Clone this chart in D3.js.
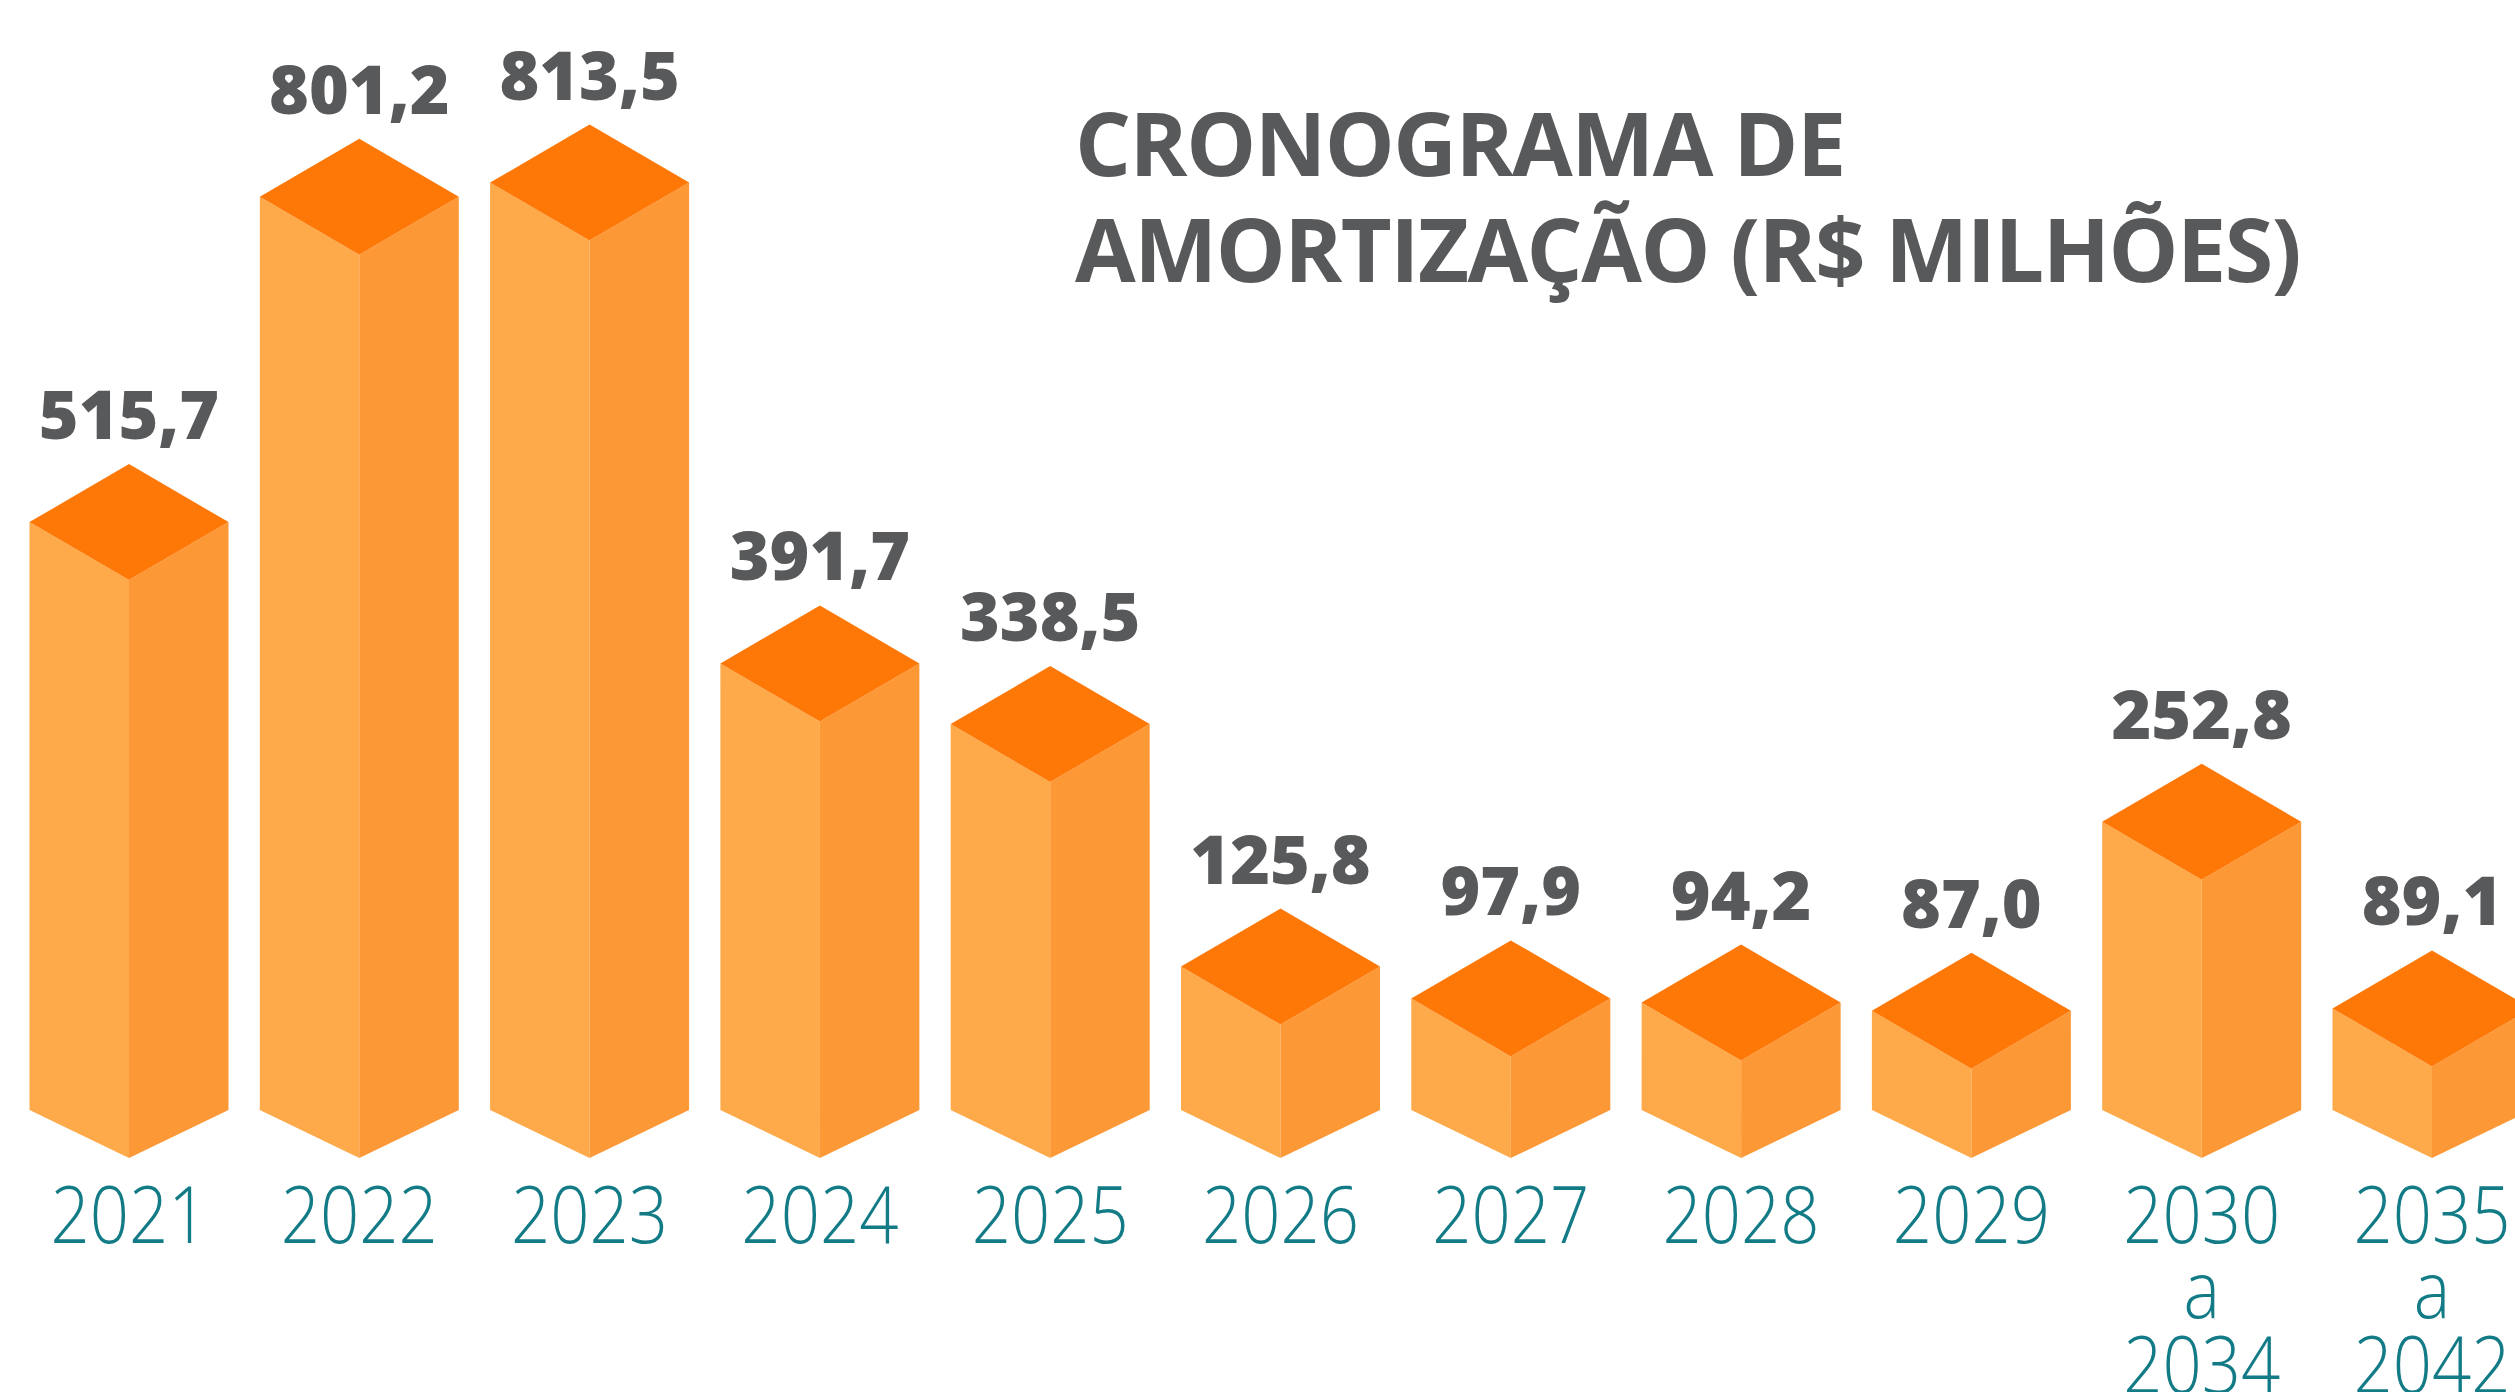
<!DOCTYPE html>
<html>
<head>
<meta charset="utf-8">
<script src="https://cdn.jsdelivr.net/npm/d3@7"></script>
<style>
  body { margin: 0; background: #fff; }
  svg { display: block; }
</style>
</head>
<body>
<script>
// DATA
// =============================================================================

const periods = ["2021", "2022", "2023", "2024", "2025", "2026", "2027", "2028", "2029", "2030 a 2034", "2035 a 2042"];
const periodLines = [["2021"], ["2022"], ["2023"], ["2024"], ["2025"], ["2026"], ["2027"], ["2028"], ["2029"], ["2030", "a", "2034"], ["2035", "a", "2042"]];
const amortization = [515.7, 801.2, 813.5, 391.7, 338.5, 125.8, 97.9, 94.2, 87.0, 252.8, 89.1];
const titleLines = ["CRONOGRAMA DE", "AMORTIZAÇÃO (R$ MILHÕES)"];

// CONFIG VARS
// =============================================================================

const width = 2515;
const height = 1392;
const baseY = 1110;       // bottom of the side edges
const barHalf = 99.5;     // half of a bar's width
const topDy = 58;         // depth of the top diamond
const botDy = 48;         // depth of the bottom point

const colors = {
  left: "#fea94a",
  right: "#fd9837",
  top: "#fe7808",
  value: "#58595b",
  label: "#127b86",
  title: "#58595b"
};

const fmt = v => v.toFixed(1).replace(".", ",");

// SCALES
// =============================================================================

const xScale = d3.scalePoint()
    .domain(periods)
    .range([129, 2432]);

const yScale = d3.scaleLinear()
    .domain([0, 850])
    .range([baseY, baseY - 969]);

const bars = periods.map((p, i) => ({
  period: p,
  lines: periodLines[i],
  value: amortization[i]
}));

// INITIALIZE THE SVG
// =============================================================================

const svg = d3.select("body")
    .append("svg")
    .attr("width", width)
    .attr("height", height);

// BARS
// =============================================================================

const g = svg.selectAll("g.bar")
    .data(bars)
    .enter()
    .append("g")
    .attr("class", "bar");

function pts(arr) { return arr.map(p => p.join(",")).join(" "); }

// left face
g.append("polygon")
    .attr("fill", colors.left)
    .attr("points", d => {
      const cx = xScale(d.period), y = yScale(d.value);
      return pts([[cx - barHalf, y], [cx, y + topDy], [cx, baseY + botDy], [cx - barHalf, baseY]]);
    });

// right face
g.append("polygon")
    .attr("fill", colors.right)
    .attr("points", d => {
      const cx = xScale(d.period), y = yScale(d.value);
      return pts([[cx, y + topDy], [cx + barHalf, y], [cx + barHalf, baseY], [cx, baseY + botDy]]);
    });

// top diamond
g.append("polygon")
    .attr("fill", colors.top)
    .attr("points", d => {
      const cx = xScale(d.period), y = yScale(d.value);
      return pts([[cx - barHalf, y], [cx, y - topDy], [cx + barHalf, y], [cx, y + topDy]]);
    });

// VALUE LABELS
// =============================================================================

g.append("text")
    .attr("x", d => xScale(d.period))
    .attr("y", d => yScale(d.value) - topDy - 25)
    .attr("text-anchor", "middle")
    .attr("fill", colors.value)
    .style("font-family", "'Open Sans', 'Noto Sans', sans-serif")
    .style("font-weight", 800)
    .style("font-size", "68px")
    .style("letter-spacing", "0px")
    .text(d => fmt(d.value));

// PERIOD LABELS
// =============================================================================

const lab = g.append("text")
    .attr("transform", d => `translate(${xScale(d.period)},1243) scale(0.86,1)`)
    .attr("text-anchor", "middle")
    .attr("fill", colors.label)
    .style("font-family", "'Open Sans', 'Noto Sans', sans-serif")
    .style("font-weight", 300)
    .style("font-size", "80px");

lab.selectAll("tspan")
    .data(d => d.lines)
    .enter()
    .append("tspan")
    .attr("x", 0)
    .attr("y", (d, i) => i * 75)
    .text(d => d);

// TITLE
// =============================================================================

svg.append("g")
    .selectAll("text")
    .data(titleLines)
    .enter()
    .append("text")
    .attr("x", 1075)
    .attr("y", (d, i) => 176 + i * 106)
    .attr("fill", colors.title)
    .style("font-family", "'Open Sans', 'Noto Sans', sans-serif")
    .style("font-weight", 700)
    .style("font-size", "88px")
    .style("letter-spacing", "-1.5px")
    .text(d => d);
</script>
</body>
</html>
